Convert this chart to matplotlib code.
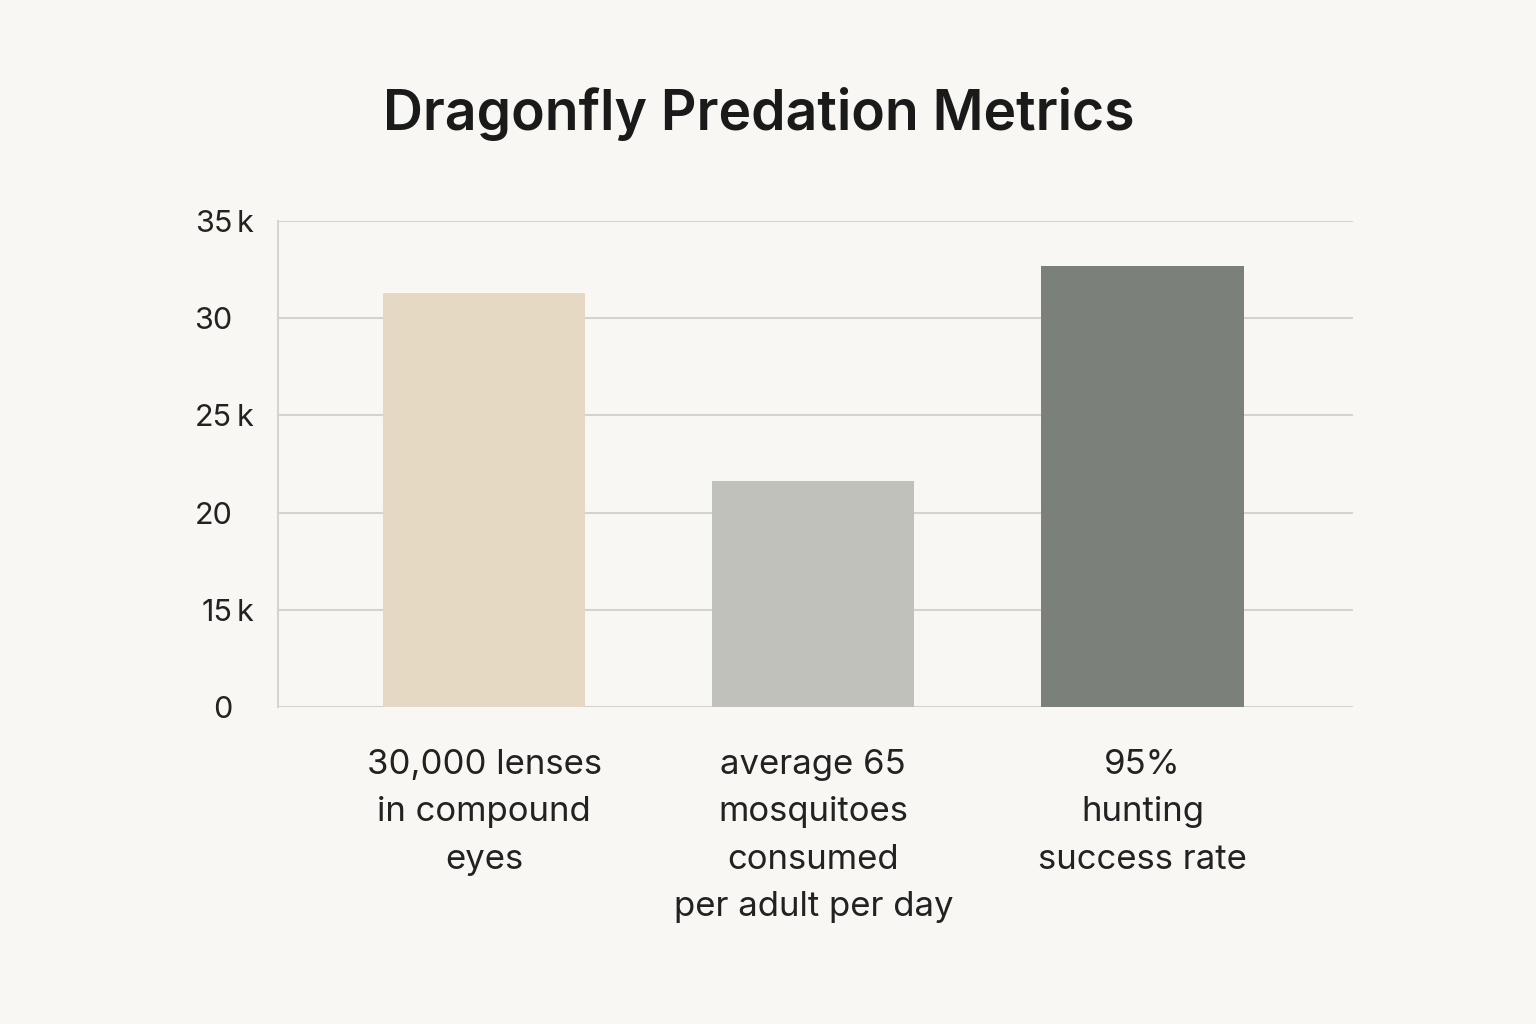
"""Dragonfly predation metrics bar chart"""

import matplotlib
matplotlib.use("Agg")
import matplotlib.pyplot as plt
import matplotlib.transforms as mtransforms

CATEGORIES = ["30,000 lenses\nin compound\neyes",
              "average 65\nmosquitoes\nconsumed\nper adult per day",
              "95%\nhunting\nsuccess rate"]
VALUES = [31.3, 21.6, 32.7]  # thousands
COLORS = ["#e6d9c4", "#c0c1bb", "#7b807a"]

TICKS = [10, 15, 20, 25, 30, 35]
TICK_NUMS = ["0", "15", "20", "25", "30", "35"]
TICK_SUFFIX = ["", "k", "", "k", "", "k"]

BG = "#f9f7f3"
GRID = "#d6d2cc"
TEXT = "#222222"

plt.rcParams["font.family"] = ["Inter", "DejaVu Sans"]

fig = plt.figure(figsize=(15.36, 10.24), dpi=100, facecolor=BG)
ax = fig.add_axes([0.181, 0.3096, 0.7, 0.4746], facecolor=BG)

x = range(len(VALUES))
ax.bar(x, VALUES, width=0.614, color=COLORS, zorder=3)

ax.set_xlim(-0.626, 2.64)
ax.set_ylim(TICKS[0], TICKS[-1])
ax.set_yticks(TICKS)
ax.set_yticklabels(TICK_NUMS, fontsize=22, color=TEXT)
ax.tick_params(axis="y", length=0, pad=33)
ax.set_xticks(list(x))
ax.set_xticklabels(CATEGORIES, fontsize=25, color=TEXT, linespacing=1.62,
                   va="top")
ax.tick_params(axis="x", length=0, pad=30)

# "k" suffixes hang to the right of the numbers
trans = mtransforms.blended_transform_factory(ax.transAxes, ax.transData)
for t, s in zip(TICKS, TICK_SUFFIX):
    if s:
        ax.text(-0.0385, t, s, transform=trans, ha="left",
                va="center_baseline", fontsize=22, color=TEXT)

ax.yaxis.grid(True, color=GRID, linewidth=1.5, zorder=0)
for side in ["top", "right", "bottom"]:
    ax.spines[side].set_visible(False)
ax.spines["left"].set_color(GRID)
ax.spines["left"].set_linewidth(1.5)

fig.text(0.494, 0.889, "Dragonfly Predation Metrics", ha="center",
         va="center", fontsize=39.8, fontweight="semibold", color="#1a1a1a")

plt.savefig("out.png", dpi=100, facecolor=BG)
